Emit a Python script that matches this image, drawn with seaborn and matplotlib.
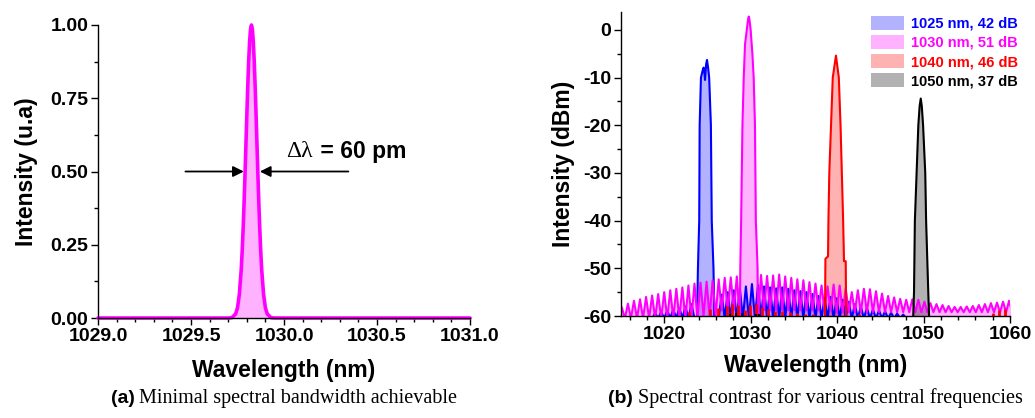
import matplotlib
matplotlib.use("Agg")
import pandas as pd
import matplotlib.pyplot as plt
import seaborn as sns
from matplotlib.patches import Patch
from matplotlib.ticker import MultipleLocator, FormatStrFormatter

# -----------------------
# Data
# -----------------------
# (a) narrowest spectrum, normalised intensity
narrow_nm = [1029.00, 1029.70, 1029.72, 1029.74, 1029.75, 1029.76, 1029.77, 1029.775,
             1029.78, 1029.785, 1029.79, 1029.795, 1029.80, 1029.805, 1029.81, 1029.815,
             1029.82, 1029.825, 1029.83, 1029.835, 1029.84, 1029.845, 1029.85, 1029.855,
             1029.86, 1029.865, 1029.87, 1029.875, 1029.88, 1029.89, 1029.90, 1029.91,
             1029.93, 1029.95, 1031.00]
narrow_int = [0, 0, 0.001, 0.014, 0.035, 0.081, 0.165, 0.226,
              0.300, 0.386, 0.483, 0.586, 0.690, 0.788, 0.875, 0.942,
              0.985, 1.0, 0.985, 0.942, 0.875, 0.788, 0.690, 0.586,
              0.483, 0.386, 0.300, 0.226, 0.165, 0.081, 0.035, 0.014,
              0.001, 0, 0]

# (b) main peaks (nm, dBm)
blue_nm = [1023.8, 1023.9, 1024.05, 1024.1, 1024.25, 1024.45, 1024.56, 1024.65, 1024.72,
           1024.85, 1024.95, 1025.08, 1025.2, 1025.4, 1025.5, 1025.7, 1025.8]
blue_db = [-60.5, -50, -40, -20, -10, -8.5, -7.9, -9, -10.5,
           -7.2, -6.3, -8, -10, -20, -40, -50, -60.5]
mag_nm = [1028.75, 1028.8, 1028.9, 1029.05, 1029.2, 1029.35, 1029.55, 1029.7, 1029.78,
          1029.86, 1030.0, 1030.2, 1030.35, 1030.5, 1030.6, 1030.8, 1030.85]
mag_db = [-60.5, -50, -40, -20, -10, -3, 0, 2.2, 2.8,
          2.2, 0, -5, -10, -20, -40, -50, -60.5]
red_nm = [1038.6, 1038.65, 1038.95, 1039.0, 1039.1, 1039.3, 1039.5, 1039.87,
          1040.2, 1040.4, 1040.55, 1040.7, 1040.8, 1041.0, 1041.05]
red_db = [-60.5, -48, -47.5, -40, -30, -20, -10, -5.4,
          -10, -20, -30, -40, -48.5, -48.5, -60.5]
black_nm = [1048.8, 1048.9, 1049.0, 1049.2, 1049.4, 1049.55, 1049.68, 1049.8,
            1049.95, 1050.2, 1050.3, 1050.55, 1050.65]
black_db = [-60.5, -55, -40, -30, -20, -16, -14.4, -16,
            -20, -30, -40, -55, -60.5]

# (b) ripple floor of the 1030 nm spectrum
mag_rip_nm = [1015.1, 1015.8, 1016.5, 1017.2, 1017.9, 1018.6, 1019.3, 1020.0, 1020.7, 1021.4,
              1022.1, 1022.8, 1023.5, 1024.2, 1024.9, 1025.6, 1026.3, 1027.0, 1027.7, 1028.4,
              1029.1, 1029.8, 1030.5, 1031.2, 1031.9, 1032.6, 1033.3, 1034.0, 1034.7, 1035.4,
              1036.1, 1036.8, 1037.5, 1038.2, 1038.9, 1039.6, 1040.3, 1041.0, 1041.7, 1042.4,
              1043.1, 1043.8, 1044.5, 1045.2, 1045.9, 1046.6, 1047.3, 1048.0, 1048.7, 1049.4,
              1050.1, 1050.8, 1051.5, 1052.2, 1052.9, 1053.6, 1054.3, 1055.0, 1055.7, 1056.4,
              1057.1, 1057.8, 1058.5, 1059.2, 1059.9]
mag_rip_db = [-58.2, -57.4, -56.8, -56.5, -56.0, -55.7, -55.4, -55.0, -54.6, -54.3,
              -54.0, -53.6, -53.2, -53.0, -52.8, -52.5, -52.3, -52.0, -51.9, -51.7,
              -51.6, -51.5, -51.5, -51.4, -51.6, -51.5, -51.3, -51.7, -52.0, -52.3,
              -52.5, -52.9, -53.2, -53.6, -53.8, -53.4, -53.6, -54.2, -55.0, -54.6,
              -54.3, -54.4, -54.8, -55.3, -55.8, -56.1, -56.4, -56.6, -56.5, -56.6,
              -57.0, -57.3, -57.5, -57.7, -57.9, -58.1, -58.1, -58.0, -57.9, -57.7,
              -57.5, -57.3, -57.2, -57.0, -56.8]
mag_dip_nm = [1014.75, 1015.45, 1016.15, 1016.85, 1017.55, 1018.25, 1018.95, 1019.65, 1020.35, 1021.05,
              1021.75, 1022.45, 1023.15, 1023.85, 1024.55, 1025.25, 1025.95, 1026.65, 1027.35, 1028.05,
              1028.75, 1029.45, 1030.15, 1030.85, 1031.55, 1032.25, 1032.95, 1033.65, 1034.35, 1035.05,
              1035.75, 1036.45, 1037.15, 1037.85, 1038.55, 1039.25, 1039.95, 1040.65, 1041.35, 1042.05,
              1042.75, 1043.45, 1044.15, 1044.85, 1045.55, 1046.25, 1046.95, 1047.65, 1048.35, 1049.05,
              1049.75, 1050.45, 1051.15, 1051.85, 1052.55, 1053.25, 1053.95, 1054.65, 1055.35, 1056.05,
              1056.75, 1057.45, 1058.15, 1058.85, 1059.55, 1060.25]
mag_dip_db = [-60.5] * 14 + [-60.0] * 3 + [-58.8] * 19 + [-59.2] * 30

# (b) ripple floor of the 1025 nm spectrum
blue_rip_nm = [1018.95, 1019.65, 1020.35, 1021.05, 1021.75, 1022.45, 1023.15,
               1026.65, 1027.35, 1028.05, 1028.75, 1029.45, 1030.15, 1030.85, 1031.55, 1032.25, 1032.95,
               1033.65, 1034.35, 1035.05, 1035.75, 1036.45, 1037.15, 1037.85, 1038.55, 1039.25, 1039.95,
               1040.65, 1041.35, 1042.05, 1042.75, 1043.45, 1044.15, 1044.85, 1045.55, 1046.25, 1046.95,
               1047.65]
blue_rip_db = [-59.4, -59.1, -58.8, -58.6, -58.3, -58.0, -57.5,
               -55.5, -55.0, -54.6, -54.2, -53.8, -53.3, -53.5, -53.8, -54.0, -54.2,
               -54.0, -54.3, -54.6, -54.8, -55.0, -55.4, -55.8, -56.2, -56.0, -56.3,
               -56.6, -57.0, -57.5, -58.0, -58.3, -58.6, -58.8, -59.0, -59.3, -59.5,
               -59.7]
blue_dip_nm = [1014.8, 1018.6, 1019.3, 1020.0, 1020.7, 1021.4, 1022.1, 1022.8, 1023.5,
               1026.3, 1027.0, 1027.7, 1028.4, 1029.1, 1029.8, 1030.5, 1031.2, 1031.9, 1032.6,
               1033.3, 1034.0, 1034.7, 1035.4, 1036.1, 1036.8, 1037.5, 1038.2, 1038.9, 1039.6,
               1040.3, 1041.0, 1041.7, 1042.4, 1043.1, 1043.8, 1044.5, 1045.2, 1045.9, 1046.6,
               1047.3, 1048.0, 1060.5]
blue_dip_db = [-60.5] * len(blue_dip_nm)

# (b) small spikes of the 1040 / 1050 nm spectra near the floor
red_spk_nm = [1022.9, 1025.3, 1026.2, 1027.3, 1027.9, 1028.5, 1029.3, 1029.9, 1030.6, 1031.3,
              1032.0, 1032.8, 1033.6, 1034.5, 1035.4, 1036.3, 1037.2, 1042.5, 1058.0, 1058.7, 1059.4]
red_spk_db = [-59.2, -58.6, -58.4, -57.8, -57.4, -57.6, -58.8, -57.6, -57.4, -58.2,
              -58.6, -58.9, -59.0, -59.2, -59.4, -59.5, -59.6, -59.6, -59.4, -58.8, -58.6]
black_spk_nm = [1027.6, 1028.3, 1029.0, 1030.6, 1031.0]
black_spk_db = [-59.6, -59.4, -59.3, -59.6, -59.5]

labels = ["1025 nm, 42 dB", "1030 nm, 51 dB", "1040 nm, 46 dB", "1050 nm, 37 dB"]
colors = ["#0000ff", "#ff00ff", "#ff0000", "#000000"]


def spectrum(main_nm, main_db, rip_nm=(), rip_db=(), dip_nm=(), dip_db=()):
    bg = pd.DataFrame({"nm": list(rip_nm) + list(dip_nm), "db": list(rip_db) + list(dip_db)})
    bg = bg[(bg.nm < min(main_nm)) | (bg.nm > max(main_nm))]
    pk = pd.DataFrame({"nm": main_nm, "db": main_db})
    return pd.concat([bg, pk]).sort_values("nm").reset_index(drop=True)


# -----------------------
# Style
# -----------------------
sns.set_theme(style="ticks")
plt.rcParams["font.family"] = ["Liberation Sans", "DejaVu Sans"]
plt.rcParams["axes.unicode_minus"] = False
plt.rcParams["axes.edgecolor"] = "black"
plt.rcParams["axes.linewidth"] = 1.0
plt.rcParams["text.color"] = "black"
plt.rcParams["axes.labelcolor"] = "black"
plt.rcParams["xtick.color"] = "black"
plt.rcParams["ytick.color"] = "black"

fig = plt.figure(figsize=(10.35, 4.18), dpi=100)
ax1 = fig.add_axes([0.0947, 0.2392, 0.3594, 0.701])
ax2 = fig.add_axes([0.600, 0.244, 0.3758, 0.7273])


def style_axes(ax):
    sns.despine(ax=ax)
    ax.tick_params(which="major", direction="out", length=5, width=1, labelsize=14,
                   color="black", labelcolor="black", pad=2)
    ax.tick_params(which="minor", direction="out", length=3, width=1, color="black")
    for lab in ax.get_xticklabels() + ax.get_yticklabels():
        lab.set_fontweight("bold")


# -----------------------
# (a) Minimal bandwidth
# -----------------------
ax1.fill_between(narrow_nm, narrow_int, 0, color="#ff00ff", alpha=0.3, lw=0)
sns.lineplot(x=narrow_nm, y=narrow_int, ax=ax1, color="#ff00ff", lw=2.6,
             sort=False, estimator=None, clip_on=False)
ax1.set_xlim(1029.0, 1031.0)
ax1.set_ylim(0, 1.0)
ax1.xaxis.set_major_locator(MultipleLocator(0.5))
ax1.xaxis.set_minor_locator(MultipleLocator(0.1))
ax1.yaxis.set_major_locator(MultipleLocator(0.25))
ax1.yaxis.set_minor_locator(MultipleLocator(0.125))
ax1.xaxis.set_major_formatter(FormatStrFormatter("%.1f"))
ax1.yaxis.set_major_formatter(FormatStrFormatter("%.2f"))
ax1.set_xlabel("Wavelength (nm)", fontsize=16.5, fontweight="bold", labelpad=10)
ax1.set_ylabel("Intensity (u.a)", fontsize=16.5, fontweight="bold", labelpad=9)
style_axes(ax1)

arrow = dict(arrowstyle="-|>", color="black", lw=1.3, mutation_scale=16, shrinkA=0, shrinkB=0)
ax1.annotate("", xy=(1029.784, 0.5), xytext=(1029.47, 0.5), arrowprops=arrow)
ax1.annotate("", xy=(1029.87, 0.5), xytext=(1030.346, 0.5), arrowprops=arrow)
ax1.text(1030.01, 0.567, "Δλ", fontsize=17, family="Liberation Serif", va="center", ha="left")
ax1.text(1030.16, 0.567, " = 60 pm", fontsize=16.5, fontweight="bold", va="center", ha="left")

# -----------------------
# (b) Spectral contrast
# -----------------------
series = [
    spectrum(blue_nm, blue_db, blue_rip_nm, blue_rip_db, blue_dip_nm, blue_dip_db),
    spectrum(mag_nm, mag_db, mag_rip_nm, mag_rip_db, mag_dip_nm, mag_dip_db),
    spectrum(red_nm, red_db),
    spectrum(black_nm, black_db),
]
for df, col in zip(series, colors):
    ax2.fill_between(df.nm, df.db, -60.5, color=col, alpha=0.3, lw=0)
    sns.lineplot(data=df, x="nm", y="db", ax=ax2, color=col, lw=1.5,
                 sort=False, estimator=None)
ax2.vlines(red_spk_nm, -60.5, red_spk_db, color="#ff0000", lw=2)
ax2.vlines(black_spk_nm, -60.5, black_spk_db, color="#000000", lw=1.5)

ax2.set_xlim(1015, 1060)
ax2.set_ylim(-60, 3.75)
ax2.xaxis.set_major_locator(MultipleLocator(10))
ax2.xaxis.set_minor_locator(MultipleLocator(2))
ax2.yaxis.set_major_locator(MultipleLocator(10))
ax2.yaxis.set_minor_locator(MultipleLocator(5))
ax2.set_xlabel("Wavelength (nm)", fontsize=16.5, fontweight="bold", labelpad=8)
ax2.set_ylabel("Intensity (dBm)", fontsize=16.5, fontweight="bold", labelpad=6)
style_axes(ax2)

handles = [Patch(facecolor=c, alpha=0.3, edgecolor="none") for c in colors]
leg = ax2.legend(handles, labels, loc="upper right", bbox_to_anchor=(1.046, 1.02),
                 frameon=False, handlelength=2.3, handleheight=1.05, labelspacing=0.3,
                 handletextpad=0.45, borderpad=0.2, prop={"weight": "bold", "size": 10.5})
for txt, c in zip(leg.get_texts(), colors):
    txt.set_color(c)

# -----------------------
# Captions
# -----------------------
for ax, tag, cap in [(ax1, "(a)", "Minimal spectral bandwidth achievable"),
                     (ax2, "(b)", "Spectral contrast for various central frequencies")]:
    t1 = fig.text(0, 0.035, tag, fontsize=14, fontweight="bold", va="baseline")
    t2 = fig.text(0, 0.035, " " + cap, fontsize=14.5, family="Liberation Serif", va="baseline")
    fig.canvas.draw()
    r = fig.canvas.get_renderer()
    w1 = t1.get_window_extent(r).width / fig.bbox.width
    w2 = t2.get_window_extent(r).width / fig.bbox.width
    pos = ax.get_position()
    x0 = pos.x0 + pos.width / 2 - (w1 + w2) / 2
    t1.set_x(x0)
    t2.set_x(x0 + w1)

fig.savefig("out.png", dpi=100)
